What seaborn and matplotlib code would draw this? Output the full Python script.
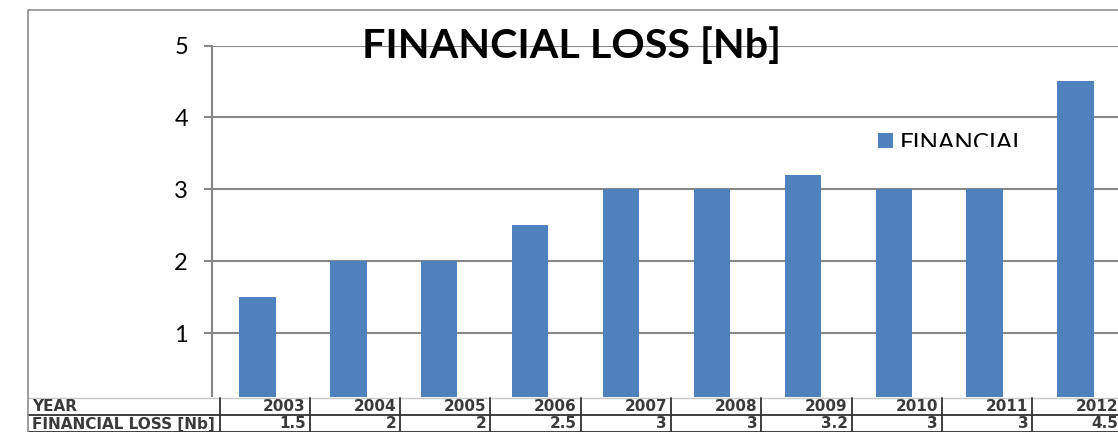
import matplotlib
matplotlib.use('Agg')
import matplotlib.pyplot as plt
import seaborn as sns
import pandas as pd
from matplotlib.patches import Rectangle
from matplotlib.lines import Line2D
from matplotlib.transforms import Bbox

# ---------------- data ----------------
years = ['2003', '2004', '2005', '2006', '2007', '2008', '2009', '2010', '2011', '2012']
losses = [1.5, 2, 2, 2.5, 3, 3, 3.2, 3, 3, 4.5]
loss_labels = ['1.5', '2', '2', '2.5', '3', '3', '3.2', '3', '3', '4.5']
row_headers = ['YEAR', 'FINANCIAL LOSS [Nb]']
y_ticks = [0, 1, 2, 3, 4, 5]
title_text = 'FINANCIAL LOSS [Nb]'
legend_text = 'FINANCIAL'

BAR = '#4F81BD'
GRID = '#878787'

sns.set_theme(style='white')
plt.rcParams['font.family'] = ['Lato', 'DejaVu Sans']

W, H = 1118, 432
fig = plt.figure(figsize=(W / 100, H / 100), dpi=100)
fig.patch.set_facecolor('white')


def fx(px):
    return px / W


def fy(py):
    return 1 - py / H


# ---------------- main plot ----------------
ax = fig.add_axes([212 / W, 1 - 405 / H, 909 / W, (405 - 45.5) / H])
df = pd.DataFrame({'year': years, 'loss': losses})
sns.barplot(data=df, x='year', y='loss', color=BAR, saturation=1, width=0.4,
            ax=ax, errorbar=None, zorder=3, linewidth=0, edgecolor='none')
ax.set_axisbelow(True)
ax.set_xlim(-0.5, 9.5)
ax.set_ylim(0, 5)
ax.set_yticks(y_ticks)
ax.set_xticks([])
ax.set_xlabel('')
ax.set_ylabel('')
for s in ['top', 'right', 'bottom']:
    ax.spines[s].set_visible(False)
ax.spines['left'].set_color(GRID)
ax.spines['left'].set_linewidth(1.5)
ax.yaxis.grid(True, color=GRID, lw=1.5)
ax.xaxis.grid(False)
ax.tick_params(axis='y', direction='out', length=5.8, width=1.5, color=GRID,
               pad=11.5, labelsize=17, labelcolor='black', left=True)
ax.set_facecolor('white')

renderer = fig.canvas.get_renderer()


def fit(t, target_w):
    w = t.get_window_extent(renderer=renderer).width
    t.set_fontsize(t.get_fontsize() * target_w / w)


# ---------------- title ----------------
title = fig.text(fx(571), fy(58), title_text, ha='center', va='baseline',
                 fontsize=30, fontweight='bold', color='black', zorder=6)
fit(title, 418)

# ---------------- clipped legend ----------------
fig.patches.append(Rectangle((fx(878), fy(148)), 15 / W, 15 / H, transform=fig.transFigure,
                             facecolor=BAR, edgecolor='none', zorder=6))
leg = fig.text(fx(900), fy(151), legend_text, ha='left', va='baseline',
               fontsize=20, color='black', zorder=6)
fit(leg, 125)
cap_px = leg.get_fontsize() * 100 / 72 * 0.72
leg.set_position((fx(900), fy(133 + cap_px)))
leg.set_clip_box(Bbox.from_extents(0, H - 147, W, H))
leg.set_clip_on(True)

# ---------------- data table ----------------
tab = fig.add_axes([0, 0, 1, (432 - 396.5) / H])
tab.set_zorder(5)
tab.set_xlim(0, W)
tab.set_ylim(432, 396.5)
tab.axis('off')
tab.add_patch(Rectangle((0, 396.5), W, 36, facecolor='white', edgecolor='none', zorder=0))

col0 = 219.5
colw = 90.3
tab.plot([27.5, W], [397.5, 397.5], color='#c8c8c8', lw=1, zorder=2)
tab.plot([27.5, W], [415, 415], color='#303030', lw=1.3, zorder=2)
tab.plot([27.5, W], [432, 432], color='#303030', lw=1.3, zorder=2)
for i in range(len(years) + 1):
    x = col0 + colw * i
    tab.plot([x, x], [397.5, 432], color='#303030', lw=1.3, zorder=2)

tfont = dict(family='DejaVu Sans', fontweight='bold', color='#3a3a3a', fontsize=8)
h1 = tab.text(32, 406.5, row_headers[0], ha='left', va='center', **tfont)
h2 = tab.text(32, 424, row_headers[1], ha='left', va='center', **tfont)
fit(h2, 183)
h1.set_fontsize(h2.get_fontsize())
fs = h2.get_fontsize()
for i, (yr, lb) in enumerate(zip(years, loss_labels)):
    xr = col0 + colw * (i + 1) - 4
    tab.text(xr, 406.5, yr, ha='right', va='center', **dict(tfont, fontsize=fs))
    tab.text(xr, 424, lb, ha='right', va='center', **dict(tfont, fontsize=fs))

# ---------------- outer chart border ----------------
fig.lines.append(Line2D([fx(27.5), fx(27.5), 1.0], [0.0, fy(10), fy(10)],
                        transform=fig.transFigure, color='#8c8c8c', lw=1.2, zorder=10))

fig.savefig('out.png', dpi=100, facecolor='white')
